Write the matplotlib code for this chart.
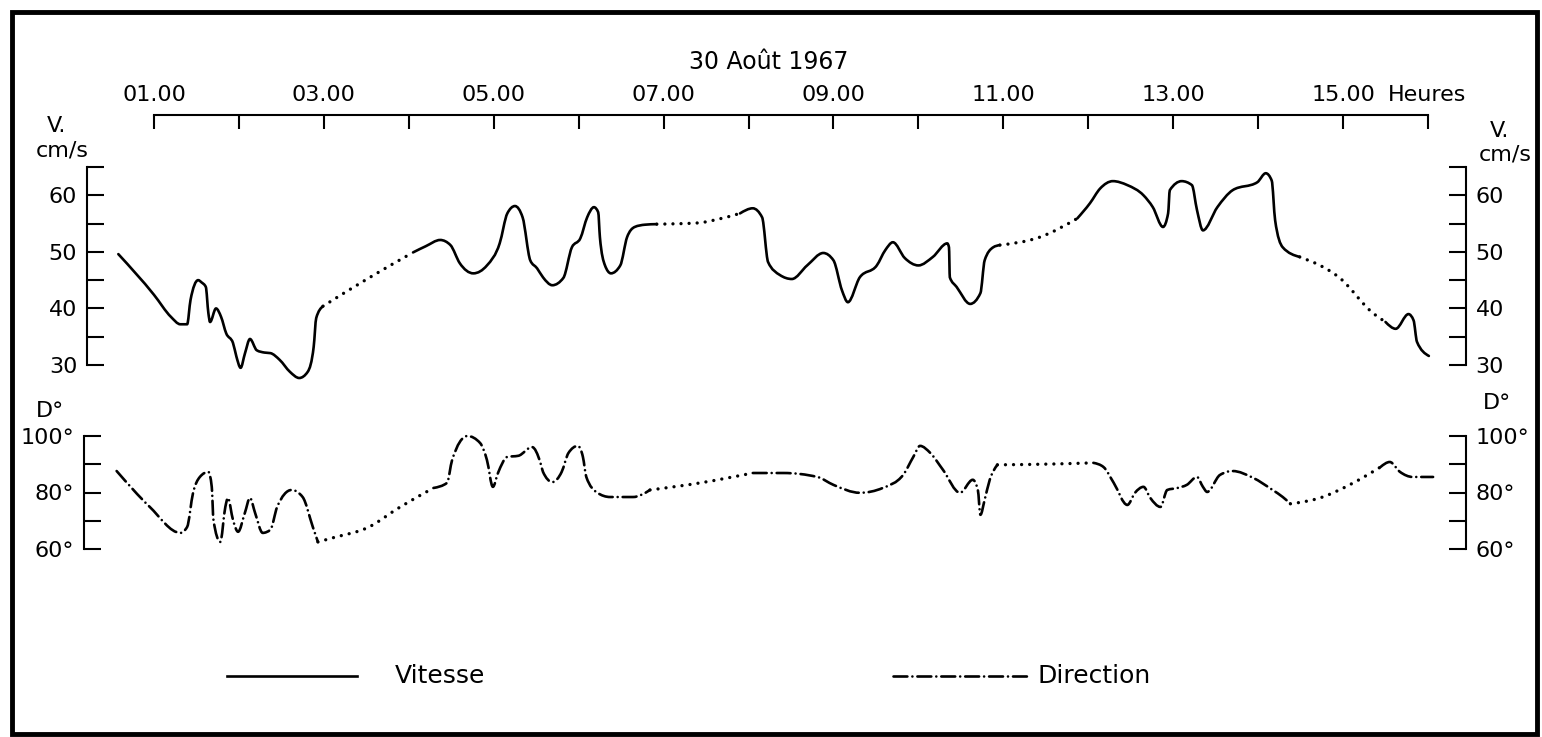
"""
Courant au point fixe - 30 Aout 1967.

Vitesse (cm/s) and direction (degres) against time, solid / dash-dot where
measured and dotted where the record was interpolated.
"""

import matplotlib
matplotlib.use("Agg")
import matplotlib.pyplot as plt
from matplotlib.lines import Line2D
from matplotlib.patches import PathPatch, Rectangle
from matplotlib.path import Path

plt.rcParams["font.family"] = ["DejaVu Sans"]
plt.rcParams["lines.scale_dashes"] = False

# ---- data ----------------------------------------------------------------
hour_ticks = list(range(1, 17))
hour_labels = ["01.00", "", "03.00", "", "05.00", "", "07.00", "", "09.00", "",
               "11.00", "", "13.00", "", "15.00", ""]

vitesse_h = [0.58, 1.00, 1.20, 1.31, 1.39, 1.43, 1.52, 1.56, 1.61, 1.64, 1.66,
             1.73, 1.79, 1.85, 1.93, 1.97, 2.02, 2.07, 2.13, 2.21, 2.30, 2.37,
             2.48, 2.60, 2.71, 2.81, 2.88, 2.91, 2.99,
             3.52, 4.05,
             4.20, 4.37, 4.49, 4.60, 4.76, 4.92, 5.07, 5.16, 5.25, 5.34, 5.43,
             5.51, 5.58, 5.69, 5.82, 5.92, 6.02, 6.10, 6.18, 6.23, 6.25, 6.31,
             6.38, 6.49, 6.57, 6.66, 6.78, 6.92,
             7.39, 7.65, 7.90,
             8.05, 8.16, 8.23, 8.37, 8.51, 8.69, 8.88, 9.00, 9.10, 9.17, 9.31,
             9.51, 9.61, 9.70, 9.84, 10.00, 10.17, 10.34, 10.36, 10.37, 10.45,
             10.61, 10.73, 10.78, 10.88, 10.96,
             11.43, 11.87,
             12.02, 12.14, 12.29, 12.46, 12.65, 12.76, 12.88, 12.94, 12.96,
             13.10, 13.22, 13.28, 13.35, 13.52, 13.70, 13.99, 14.09, 14.16,
             14.20, 14.29, 14.49,
             14.96, 15.35, 15.50,
             15.62, 15.77, 15.83, 15.87, 16.01]
vitesse = [49.6, 42.4, 38.5, 37.2, 37.2, 41.5, 45.0, 44.6, 43.8, 39.2, 37.6,
           40.0, 38.5, 35.6, 33.9, 31.5, 29.5, 32.0, 34.6, 32.6, 32.2, 32.1,
           30.9, 28.8, 27.7, 28.8, 33.2, 38.3, 40.4,
           45.3, 49.9,
           51.0, 52.1, 51.2, 48.0, 46.2, 47.6, 51.5, 56.8, 58.1, 56.1, 48.5,
           47.1, 45.5, 44.1, 45.4, 50.8, 52.4, 56.1, 57.9, 57.0, 52.6, 47.6,
           46.2, 47.6, 52.6, 54.4, 54.8, 54.9,
           55.1, 55.8, 56.8,
           57.7, 56.1, 48.2, 45.9, 45.2, 47.6, 49.8, 48.5, 43.2, 41.1, 45.5,
           47.6, 50.3, 51.7, 48.9, 47.6, 49.1, 51.5, 50.8, 45.5, 43.8,
           40.8, 42.7, 48.5, 50.8, 51.2,
           52.6, 55.9,
           58.6, 61.2, 62.5, 61.8, 60.0, 57.9, 54.4, 56.8, 60.9,
           62.5, 61.8, 57.4, 53.8, 57.9, 60.9, 62.3, 63.9, 62.6,
           55.6, 50.8, 49.1,
           45.4, 39.2, 37.6,
           36.4, 39.0, 37.9, 34.1, 31.6]
# stretches of the speed record that were interpolated (drawn dotted)
vitesse_gaps = [(2.99, 4.05), (6.92, 7.90), (10.96, 11.87), (14.49, 15.50)]

direction_h = [0.56, 0.95, 1.31, 1.39, 1.46, 1.54, 1.64, 1.68, 1.70, 1.78, 1.84,
               1.87, 1.93, 1.99, 2.07, 2.13, 2.19, 2.28, 2.37, 2.45, 2.62, 2.75,
               2.87, 2.93,
               3.11, 3.51, 3.90, 4.29,
               4.45, 4.51, 4.69, 4.84, 4.92, 4.99, 5.05, 5.16, 5.29, 5.45, 5.55,
               5.58, 5.69, 5.80, 5.88, 5.99, 6.05, 6.09, 6.22, 6.37, 6.64, 6.84,
               7.43, 8.05,
               8.41, 8.81, 9.00, 9.31, 9.58, 9.82, 9.94, 10.02, 10.14, 10.29,
               10.49, 10.64, 10.70, 10.73, 10.78, 10.84, 10.93,
               11.60, 12.06,
               12.18, 12.30, 12.46, 12.55, 12.65, 12.73, 12.85, 12.93, 13.05,
               13.16, 13.28, 13.35, 13.40, 13.55, 13.70, 13.94, 14.17, 14.29,
               14.38,
               14.73, 15.12, 15.44,
               15.55, 15.67, 15.82, 16.06]
direction = [87.6, 74.9, 65.7, 67.8, 79.9, 85.5, 87.3, 82.0, 70.3, 62.5, 74.9,
             78.1, 70.3, 66.1, 72.8, 78.1, 72.8, 65.7, 66.8, 74.9, 80.9, 78.4,
             67.8, 62.5,
             64.0, 67.5, 74.9, 81.6,
             83.4, 91.5, 100.0, 97.5, 91.5, 82.0, 86.9, 92.6, 93.0, 96.1, 90.5,
             87.3, 83.7, 87.3, 94.0, 96.5, 92.6, 85.5, 79.9, 78.4, 78.4, 80.9,
             83.4, 86.9,
             86.9, 85.5, 82.7, 79.9, 81.6, 86.2, 92.6, 96.5, 94.0, 88.0,
             79.9, 84.5, 80.9, 72.1, 77.4, 84.5, 89.8,
             90.1, 90.5,
             89.0, 83.4, 75.6, 79.9, 82.0, 78.1, 74.9, 80.9, 81.6,
             82.7, 85.5, 82.0, 80.2, 86.2, 87.6, 85.2, 80.9, 78.4,
             76.0,
             78.1, 83.4, 89.0,
             90.8, 87.3, 85.5, 85.5]
direction_gaps = [(2.93, 4.29), (6.84, 8.05), (10.93, 12.06), (14.38, 15.44)]

# ---- page geometry (pixels of the 1542 x 737 sheet) ----------------------
W, H = 1542, 737
PX_H1, PX_H16 = 154, 1428          # x of 01.00 and 16.00 ticks
PX_PER_H = (PX_H16 - PX_H1) / 15

DOTTED = (0, (0.01, 5.8))
DASHDOT = (0, (10, 3.6, 0.01, 3.6))
LW = 1.9
FS = 16


def fx(px):
    return px / W


def fy(py):
    return 1 - py / H


def hour_at(px):
    return 1 + (px - PX_H1) / PX_PER_H


def add_axes_px(left, top, right, bottom):
    ax = fig.add_axes([fx(left), fy(bottom), (right - left) / W, (bottom - top) / H])
    ax.set_xlim(hour_at(left), hour_at(right))
    ax.patch.set_alpha(0)
    return ax


def smooth_path(xs, ys):
    """Monotone-in-x cubic Bezier path through the points (pen-drawn look)."""
    n = len(xs)
    if n == 2:
        return Path([(xs[0], ys[0]), (xs[1], ys[1])])
    slopes = [(ys[i + 1] - ys[i]) / (xs[i + 1] - xs[i]) for i in range(n - 1)]
    tang = [0.0] * n
    for i in range(1, n - 1):
        s0, s1 = slopes[i - 1], slopes[i]
        if s0 * s1 <= 0:
            continue
        h0, h1 = xs[i] - xs[i - 1], xs[i + 1] - xs[i]
        p = (s0 * h1 + s1 * h0) / (h0 + h1)
        sign = 1 if s0 > 0 else -1
        tang[i] = sign * min(abs(s0), abs(s1), 0.5 * abs(p)) * 2
    tang[0] = (3 * slopes[0] - tang[1]) / 2
    tang[-1] = (3 * slopes[-1] - tang[-2]) / 2
    verts = [(xs[0], ys[0])]
    codes = [Path.MOVETO]
    for i in range(n - 1):
        dx = (xs[i + 1] - xs[i]) / 3
        verts += [(xs[i] + dx, ys[i] + tang[i] * dx),
                  (xs[i + 1] - dx, ys[i + 1] - tang[i + 1] * dx),
                  (xs[i + 1], ys[i + 1])]
        codes += [Path.CURVE4] * 3
    return Path(verts, codes)


def plot_record(ax, xs, ys, gaps, measured_style):
    """Draw consecutive runs, dotted inside the interpolated gaps."""
    def in_gap(a, b):
        return any(g0 - 1e-6 <= a and b <= g1 + 1e-6 for g0, g1 in gaps)

    run = [0]
    run_gap = in_gap(xs[0], xs[1])
    for i in range(1, len(xs)):
        run.append(i)
        nxt = in_gap(xs[i], xs[i + 1]) if i + 1 < len(xs) else None
        if nxt != run_gap:
            path = smooth_path([xs[j] for j in run], [ys[j] for j in run])
            patch = PathPatch(path, fill=False, edgecolor="black",
                              lw=2.4 if run_gap else LW,
                              linestyle=DOTTED if run_gap else measured_style,
                              capstyle="round", joinstyle="round",
                              transform=ax.transData, clip_on=False)
            ax.add_patch(patch)
            run = [i]
            run_gap = nxt


def style_side_axis(ax, major, minor, labels):
    for side in ("top", "bottom"):
        ax.spines[side].set_visible(False)
    for side in ("left", "right"):
        ax.spines[side].set_linewidth(1.5)
    ax.set_xticks([])
    ax.set_yticks(major)
    ax.set_yticks(minor, minor=True)
    ax.set_yticklabels(labels)
    ax.tick_params(axis="y", which="both", direction="in", length=12, width=1.5,
                   left=True, right=True, labelleft=True, labelright=True,
                   labelsize=FS, pad=7)


fig = plt.figure(figsize=(W / 100, H / 100), dpi=100)

# speed panel
ax_v = add_axes_px(87, 167, 1466, 365)
ax_v.set_ylim(30, 65)
style_side_axis(ax_v, [30, 40, 50, 60], [35, 45, 55, 65],
                ["30", "40", "50", "60"])
plot_record(ax_v, vitesse_h, vitesse, vitesse_gaps, "-")

# direction panel
ax_d = add_axes_px(84, 436, 1466, 549)
ax_d.set_ylim(60, 100)
style_side_axis(ax_d, [60, 80, 100], [70, 90],
                ["60°", "80°", "100°"])
plot_record(ax_d, direction_h, direction, direction_gaps, DASHDOT)

# time axis across the top
ax_t = add_axes_px(87, 115, 1466, 140)
for side in ("left", "right", "bottom"):
    ax_t.spines[side].set_visible(False)
ax_t.spines["top"].set_bounds(hour_ticks[0], hour_ticks[-1])
ax_t.spines["top"].set_linewidth(1.5)
ax_t.set_yticks([])
ax_t.set_xticks(hour_ticks)
ax_t.set_xticklabels(hour_labels)
ax_t.tick_params(axis="x", direction="in", length=10, width=1.5,
                 top=True, bottom=False, labeltop=True, labelbottom=False,
                 labelsize=FS, pad=7)

txt = dict(fontsize=FS, color="black")
fig.text(fx(769), fy(62), "30 Août 1967", ha="center", va="center",
         fontsize=17)
fig.text(fx(1388), fy(115 - 7 * 100 / 72), "Heures", ha="left", va="bottom",
         **txt)
fig.text(fx(57), fy(132), "V.", ha="center", va="baseline", **txt)
fig.text(fx(62), fy(156), "cm/s", ha="center", va="baseline", **txt)
fig.text(fx(1500), fy(137), "V.", ha="center", va="baseline", **txt)
fig.text(fx(1505), fy(161), "cm/s", ha="center", va="baseline", **txt)
fig.text(fx(50), fy(417), "D°", ha="center", va="baseline", **txt)
fig.text(fx(1497), fy(409), "D°", ha="center", va="baseline", **txt)

# legend
fig.add_artist(Line2D([fx(227), fx(357)], [fy(676), fy(676)], color="black",
                      lw=LW, transform=fig.transFigure))
fig.text(fx(395), fy(676), "Vitesse", ha="left", va="center", fontsize=18)
fig.add_artist(Line2D([fx(893), fx(1027)], [fy(676), fy(676)], color="black",
                      lw=LW, linestyle=DASHDOT, dash_capstyle="round",
                      transform=fig.transFigure))
fig.text(fx(1037), fy(676), "Direction", ha="left", va="center", fontsize=18)

# heavy frame round the sheet
fig.add_artist(Rectangle((fx(12), fy(734)), (1537 - 12) / W, (734 - 12) / H,
                         transform=fig.transFigure, fill=False,
                         edgecolor="black", lw=3.5))

fig.savefig("out.png", dpi=100)
plt.close(fig)
